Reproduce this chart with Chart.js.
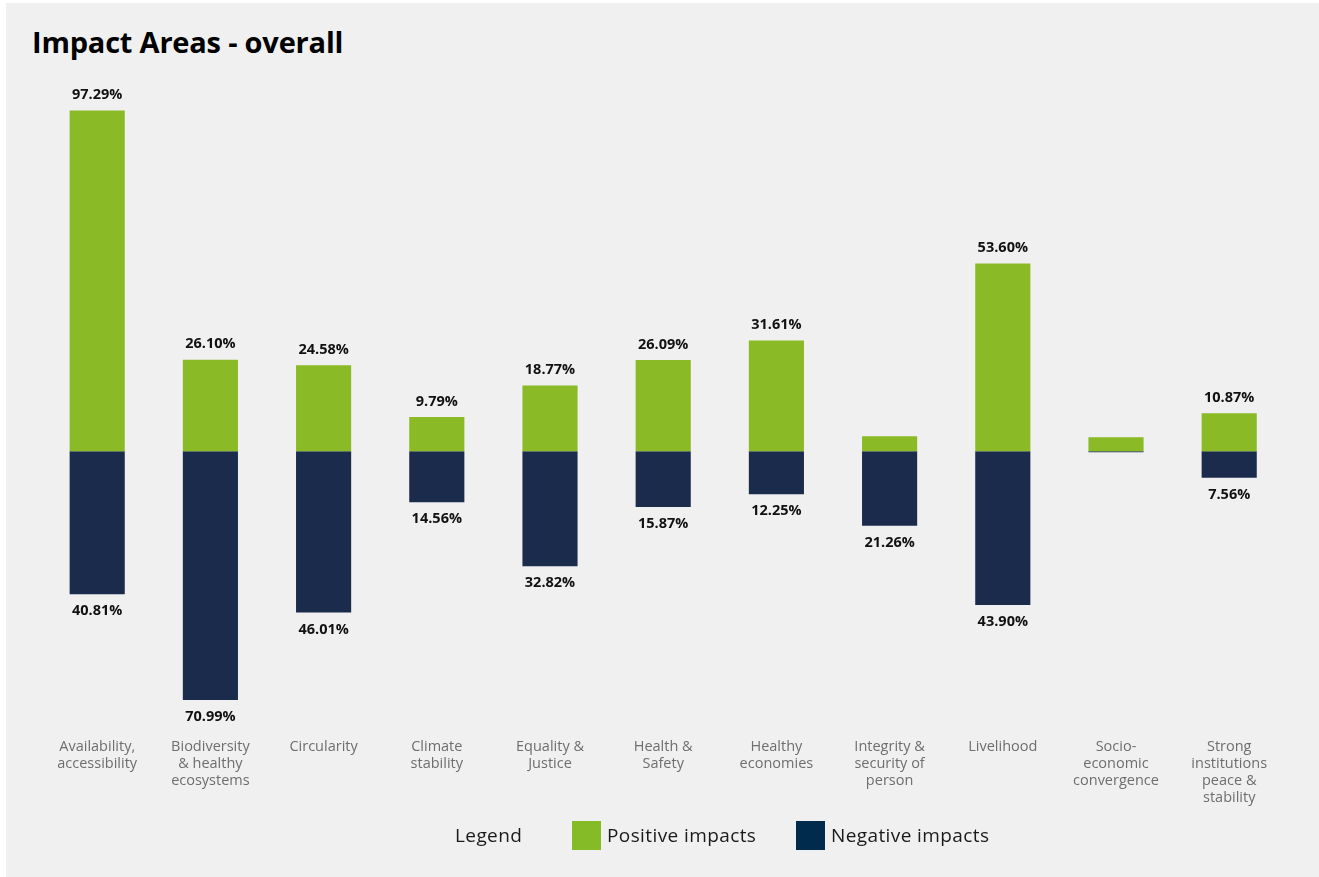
<!DOCTYPE html>
<html>
<head>
<meta charset="utf-8">
<script src="https://cdn.jsdelivr.net/npm/chart.js@4.4.0/dist/chart.umd.min.js"></script>
<style>
  html, body { margin: 0; padding: 0; background: #ffffff; width: 1319px; height: 877px; overflow: hidden; }
  #panel { position: absolute; left: 6px; top: 3px; width: 1313px; height: 874px; background: #f0f0f0; }
  #title { position: absolute; left: 32px; top: 22px; font-family: "Open Sans", sans-serif; font-weight: 700; font-size: 29px; color: #000; letter-spacing: -0.2px; line-height: 40px; white-space: nowrap; }
  #wrap { position: absolute; left: 0; top: 0; width: 1319px; height: 877px; }
  .lg { position: absolute; font-family: "Open Sans", sans-serif; font-size: 19px; letter-spacing: 0.4px; color: #1a1a1a; line-height: 29px; top: 821px; white-space: nowrap; }
  .box { position: absolute; top: 821px; width: 29px; height: 29px; }
</style>
</head>
<body>
<div id="panel"></div>
<div id="title">Impact Areas - overall</div>
<div id="wrap"><canvas id="c" width="1319" height="877"></canvas></div>
<div class="lg" style="left:455px;">Legend</div>
<div class="box" style="left:572px;background:#84bb27;"></div>
<div class="lg" style="left:607px;">Positive impacts</div>
<div class="box" style="left:796px;background:#012b4c;"></div>
<div class="lg" style="left:831px;">Negative impacts</div>
<script>
const categories = [
  ["Availability,", "accessibility"],
  ["Biodiversity", "& healthy", "ecosystems"],
  ["Circularity"],
  ["Climate", "stability"],
  ["Equality &", "Justice"],
  ["Health &", "Safety"],
  ["Healthy", "economies"],
  ["Integrity &", "security of", "person"],
  ["Livelihood"],
  ["Socio-", "economic", "convergence"],
  ["Strong", "institutions", "peace &", "stability"]
];
const positiveValues = [97.29, 26.10, 24.58, 9.79, 18.77, 26.09, 31.61, 4.3, 53.60, 4.0, 10.87];
const negativeValues = [40.81, 70.99, 46.01, 14.56, 32.82, 15.87, 12.25, 21.26, 43.90, 0.3, 7.56];
const positiveLabels = ["97.29%", "26.10%", "24.58%", "9.79%", "18.77%", "26.09%", "31.61%", null, "53.60%", null, "10.87%"];
const negativeLabels = ["40.81%", "70.99%", "46.01%", "14.56%", "32.82%", "15.87%", "12.25%", "21.26%", "43.90%", null, "7.56%"];

const valueLabelPlugin = {
  id: 'valueLabels',
  afterDatasetsDraw(chart) {
    const ctx = chart.ctx;
    ctx.save();
    ctx.font = 'bold 14.5px "Open Sans", sans-serif';
    ctx.fillStyle = '#111111';
    ctx.textAlign = 'center';
    ctx.textBaseline = 'middle';
    chart.data.datasets.forEach((ds, di) => {
      const meta = chart.getDatasetMeta(di);
      const labels = di === 0 ? positiveLabels : negativeLabels;
      meta.data.forEach((bar, i) => {
        const t = labels[i];
        if (!t) return;
        const y = di === 0 ? bar.y - 15.5 : bar.y + 17;
        ctx.fillText(t, bar.x, y);
      });
    });
    ctx.restore();
  }
};

new Chart(document.getElementById('c'), {
  type: 'bar',
  data: {
    labels: categories,
    datasets: [
      { label: 'Positive impacts', data: positiveValues, backgroundColor: '#8aba25', borderWidth: 0, barPercentage: 0.487, categoryPercentage: 1.0 },
      { label: 'Negative impacts', data: negativeValues.map(v => -v), backgroundColor: '#1b2b4b', borderWidth: 0, barPercentage: 0.487, categoryPercentage: 1.0 }
    ]
  },
  options: {
    responsive: false,
    animation: false,
    layout: { padding: { left: 40.6, right: 33.2, top: 101, bottom: 47 } },
    plugins: { legend: { display: false }, tooltip: { enabled: false }, title: { display: false } },
    scales: {
      x: {
        stacked: true,
        offset: true,
        grid: { display: false, drawTicks: false },
        border: { display: false },
        ticks: { color: '#6e6e6e', padding: 24, maxRotation: 0, autoSkip: false, font: { family: '"Open Sans", sans-serif', size: 14.5, lineHeight: '17px' } }
      },
      y: {
        stacked: true,
        display: false,
        min: -75,
        max: 100
      }
    }
  },
  plugins: [valueLabelPlugin]
});
</script>
</body>
</html>
